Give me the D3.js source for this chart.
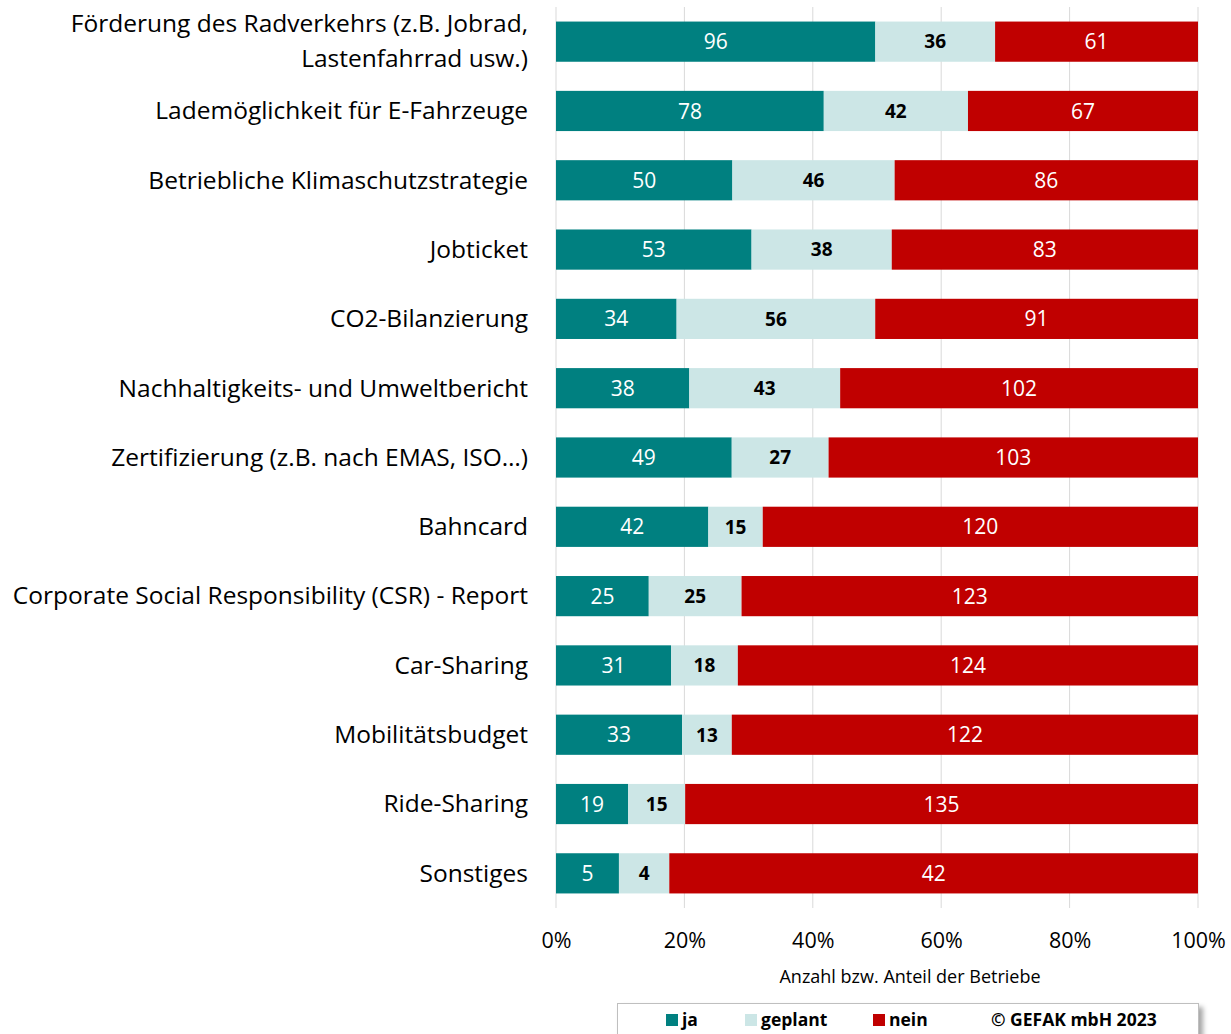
<!DOCTYPE html>
<html><head><meta charset="utf-8">
<script src="https://cdn.jsdelivr.net/npm/d3@7"></script>
<style>body{margin:0;background:#fff}svg{display:block}text{font-family:"Open Sans",Lato,sans-serif}</style>
</head><body>
<svg id="c" width="1231" height="1034"></svg>
<script>
const categories = [
  ["Förderung des Radverkehrs (z.B. Jobrad,", "Lastenfahrrad usw.)"],
  ["Lademöglichkeit für E-Fahrzeuge"],
  ["Betriebliche Klimaschutzstrategie"],
  ["Jobticket"],
  ["CO2-Bilanzierung"],
  ["Nachhaltigkeits- und Umweltbericht"],
  ["Zertifizierung (z.B. nach EMAS, ISO…)"],
  ["Bahncard"],
  ["Corporate Social Responsibility (CSR) - Report"],
  ["Car-Sharing"],
  ["Mobilitätsbudget"],
  ["Ride-Sharing"],
  ["Sonstiges"]
];
const ja      = [96, 78, 50, 53, 34, 38, 49, 42, 25, 31, 33, 19, 5];
const geplant = [36, 42, 46, 38, 56, 43, 27, 15, 25, 18, 13, 15, 4];
const nein    = [61, 67, 86, 83, 91, 102, 103, 120, 123, 124, 122, 135, 42];
const seriesNames = ["ja", "geplant", "nein"];
const tickValues = [0, 0.2, 0.4, 0.6, 0.8, 1.0];
const axisTitle = "Anzahl bzw. Anteil der Betriebe";
const copyright = "© GEFAK mbH 2023";

const colors = {ja: "#008080", geplant: "#CCE6E6", nein: "#C00000"};
const labelColors = {ja: "#fff", geplant: "#000", nein: "#fff"};

const svg = d3.select("#c");
const pLeft = 556, pRight = 1198, pTop = 7, pBottom = 908;
const x = d3.scaleLinear().domain([0, 1]).range([pLeft, pRight]);
const y = d3.scaleBand().domain(d3.range(categories.length)).range([pTop, pBottom]).paddingInner(0.42).paddingOuter(0.21);

const rows = categories.map((c, i) => ({i, ja: ja[i], geplant: geplant[i], nein: nein[i]}));
const stack = d3.stack().keys(seriesNames).offset(d3.stackOffsetExpand);
const stacked = stack(rows);

// grid
svg.append("g").selectAll("line").data(tickValues).join("line")
  .attr("x1", d => x(d)).attr("x2", d => x(d))
  .attr("y1", pTop).attr("y2", pBottom)
  .attr("stroke", "#d9d9d9").attr("stroke-width", 1);

// bars
const g = svg.append("g");
stacked.forEach(s => {
  const key = s.key;
  g.append("g").selectAll("rect").data(s).join("rect")
    .attr("x", d => x(d[0])).attr("width", d => x(d[1]) - x(d[0]))
    .attr("y", (d, i) => y(i)).attr("height", y.bandwidth())
    .attr("fill", colors[key]);
  g.append("g").selectAll("text").data(s).join("text")
    .attr("x", d => (x(d[0]) + x(d[1])) / 2)
    .attr("y", (d, i) => y(i) + y.bandwidth() / 2)
    .attr("dy", "0.36em")
    .attr("text-anchor", "middle")
    .attr("fill", labelColors[key])
    .attr("font-size", key === "geplant" ? 19 : 21)
    .attr("font-weight", key === "geplant" ? "bold" : "normal")
    .text(d => d.data[key]);
});

// category labels
const cl = svg.append("g");
categories.forEach((lines, i) => {
  const cy = y(i) + y.bandwidth() / 2;
  const lh = 35;
  lines.forEach((t, j) => {
    cl.append("text")
      .attr("x", 528)
      .attr("y", cy + (j - (lines.length - 1) / 2) * lh)
      .attr("dy", "0.34em")
      .attr("text-anchor", "end")
      .attr("font-size", 24.5)
      .attr("fill", "#000")
      .text(t);
  });
});

// x axis labels
const ax = d3.axisBottom(x).tickValues(tickValues).tickFormat(d3.format(".0%")).tickSize(0).tickPadding(0);
const axg = svg.append("g").attr("transform", `translate(0, ${pBottom})`).call(ax);
axg.select(".domain").remove();
axg.selectAll("text").attr("font-size", 21.5).attr("fill", "#000").attr("y", 32).attr("dy", "0.36em")
  .style("font-family", "'Open Sans',Lato,sans-serif");

svg.append("text").attr("x", 910).attr("y", 977).attr("dy", "0.36em")
  .attr("text-anchor", "middle").attr("font-size", 18).attr("fill", "#000").text(axisTitle);

// legend box
const defs = svg.append("defs");
const f = defs.append("filter").attr("id", "sh").attr("x", "-5%").attr("y", "-20%").attr("width", "115%").attr("height", "160%");
f.append("feDropShadow").attr("dx", 4).attr("dy", 4).attr("stdDeviation", 2.5).attr("flood-color", "#000").attr("flood-opacity", 0.35);
svg.append("rect").attr("x", 617.5).attr("y", 1003.5).attr("width", 581).attr("height", 50)
  .attr("fill", "#fff").attr("stroke", "#bfbfbf").attr("filter", "url(#sh)");

const legendX = [666, 745, 873];
const lg = svg.append("g");
seriesNames.forEach((k, i) => {
  lg.append("rect").attr("x", legendX[i]).attr("y", 1014).attr("width", 12).attr("height", 12).attr("fill", colors[k]);
  lg.append("text").attr("x", legendX[i] + 16).attr("y", 1020).attr("dy", "0.36em")
    .attr("font-size", 17.5).attr("font-weight", "bold").attr("fill", "#000").text(k);
});
lg.append("text").attr("x", 991).attr("y", 1020).attr("dy", "0.36em")
  .attr("font-size", 17.5).attr("font-weight", "bold").attr("fill", "#000").text(copyright);
</script>
</body></html>
